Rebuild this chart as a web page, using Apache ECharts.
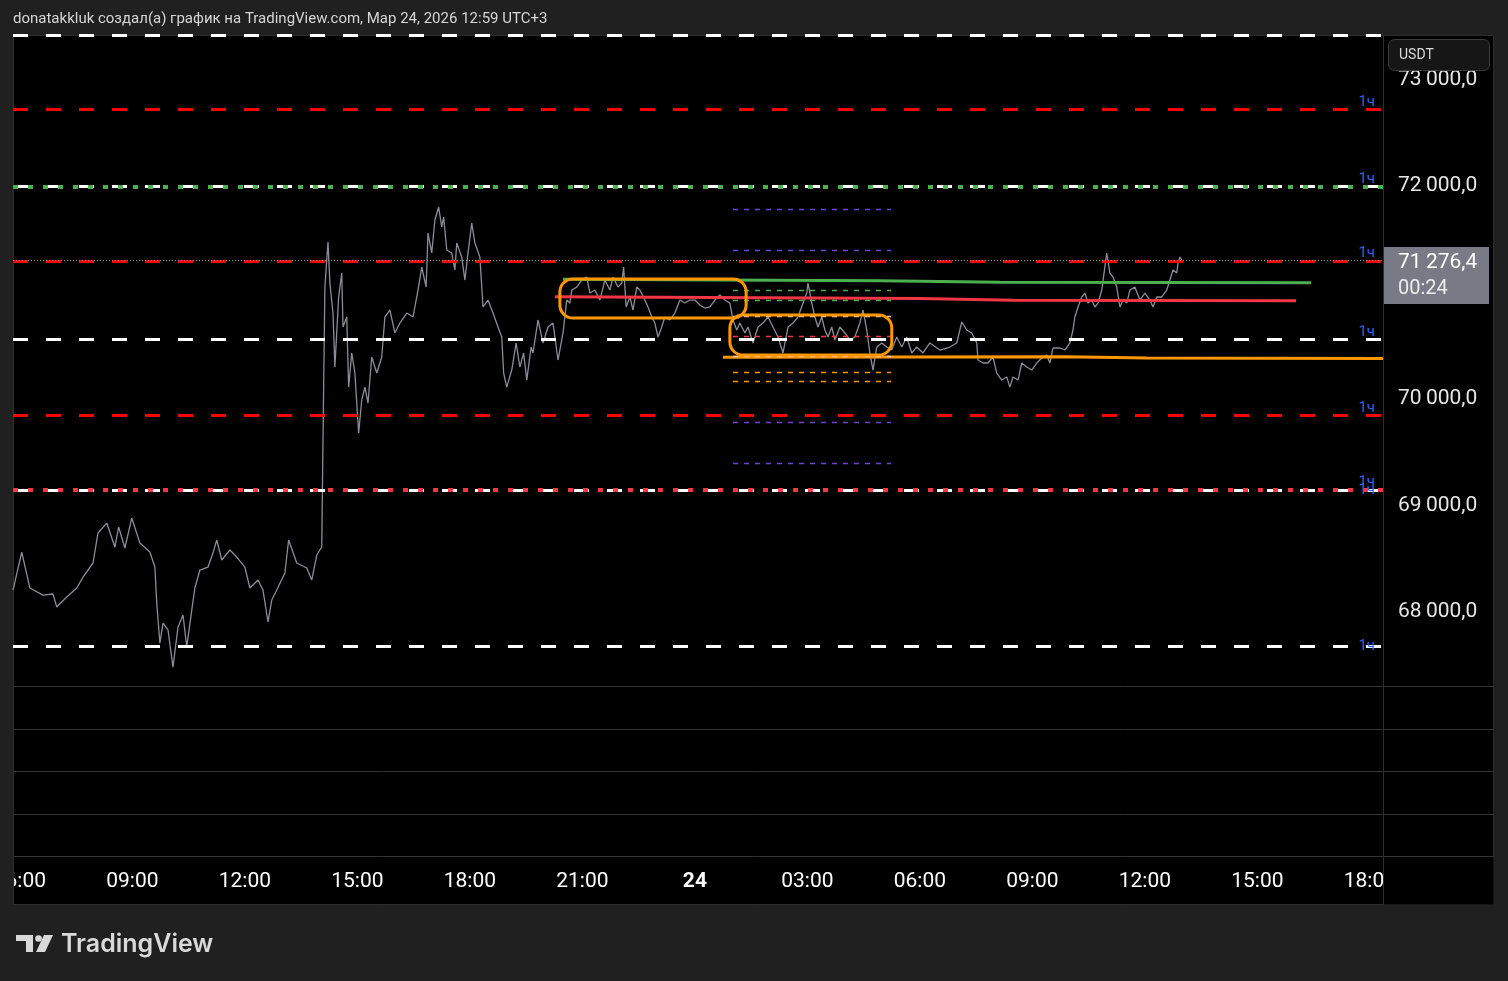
<!DOCTYPE html>
<html><head><meta charset="utf-8">
<script src="https://cdn.jsdelivr.net/npm/echarts@6/dist/echarts.min.js"></script>
<style>html,body{margin:0;padding:0;background:#202020;overflow:hidden}#c{width:1508px;height:981px}</style>
</head><body><div id="c"></div>
<script>
// ---- data (minutes since 23 Mar 00:00, price in USDT) ----
const times = [349,363,376,397,413,419,435,451,461,477,485,499,512,518,528,539,552,568,576,579,584,589,597,605,613,621,627,635,640,648,661,669,675,683,696,707,720,728,741,749,757,763,771,784,790,803,819,827,835,843,845,848,853,856,861,864,870,875,877,883,886,891,896,902,907,912,917,923,931,939,944,952,960,968,979,989,997,1003,1010,1013,1019,1024,1030,1035,1038,1043,1051,1056,1059,1067,1072,1077,1083,1088,1096,1101,1109,1117,1125,1131,1134,1139,1147,1154,1160,1166,1171,1178,1181,1189,1197,1205,1213,1221,1229,1235,1240,1243,1251,1259,1267,1272,1280,1288,1296,1304,1309,1317,1323,1326,1330,1336,1341,1347,1352,1360,1365,1371,1376,1381,1387,1392,1400,1408,1416,1424,1432,1440,1448,1456,1464,1472,1480,1488,1496,1501,1507,1512,1520,1525,1533,1541,1549,1557,1565,1573,1581,1589,1597,1605,1613,1619,1621,1627,1632,1637,1643,1648,1653,1659,1664,1672,1680,1688,1696,1704,1709,1715,1720,1725,1731,1739,1747,1755,1763,1771,1779,1787,1795,1805,1816,1832,1848,1859,1867,1875,1883,1891,1893,1901,1909,1917,1923,1931,1939,1944,1949,1957,1963,1971,1979,1987,1995,2003,2008,2013,2024,2032,2040,2045,2048,2053,2059,2064,2069,2075,2080,2085,2091,2096,2099,2104,2109,2115,2120,2125,2131,2136,2144,2152,2160,2168,2173,2179,2187,2195,2200,2205,2211,2213,2216,2219];
const prices = [68178,68535,68197,68131,68141,68019,68113,68197,68300,68432,68714,68807,68582,68770,68573,68854,68620,68535,68394,68056,67680,67868,67803,67455,67831,67944,67643,67990,68197,68366,68394,68526,68648,68460,68554,68488,68394,68197,68272,68178,67878,68084,68178,68338,68648,68432,68385,68272,68507,68582,69587,71023,71446,71061,70779,70272,70930,71155,70648,70742,70084,70404,70216,69652,69962,70084,69934,70366,70216,70366,70742,70807,70592,70685,70779,70742,70995,71211,71023,71530,71343,71653,71775,71587,71681,71371,71343,71183,71437,71305,71089,71343,71624,71437,71305,70836,70901,70779,70648,70554,70216,70084,70244,70498,70272,70404,70150,70460,70404,70714,70498,70648,70685,70338,70592,70901,70873,70995,71023,71089,71117,70967,70995,70901,71089,70995,71117,71023,71061,71211,70836,70930,70807,71023,70995,70901,70836,70742,70685,70554,70648,70742,70714,70779,70901,70873,70901,70901,70854,70826,70836,70901,70948,70901,70873,70714,70620,70685,70592,70648,70498,70648,70685,70742,70648,70554,70404,70648,70685,70742,70873,70967,71061,70873,70742,70648,70742,70620,70554,70648,70526,70648,70592,70526,70554,70685,70807,70620,70404,70244,70460,70498,70460,70432,70554,70460,70554,70404,70460,70404,70498,70432,70460,70498,70695,70620,70592,70498,70338,70310,70310,70366,70216,70150,70178,70084,70178,70150,70310,70272,70244,70310,70357,70385,70310,70451,70451,70432,70498,70620,70742,70836,70930,70967,70873,70901,70836,70873,70995,71211,71343,71155,71117,71023,70836,70901,70873,70995,71023,70901,70967,70901,70836,70930,70930,70995,71089,71183,71155,71249,71305,71276];
const lastPrice = 71276.4;
const countdown = '00:24';

const tickTimes = [360,540,720,900,1080,1260,1440,1620,1800,1980,2160,2340,2520];
const tickLabels = ['06:00','09:00','12:00','15:00','18:00','21:00','24','03:00','06:00','09:00','12:00','15:00','18:00'];
const priceTicks = [68000,69000,70000,72000,73000];

const whiteDashLevels = [73389,71969,70532,69117,67652];
const redDashLevels = [72692,71268,69818];
const greenDotLevels = [71969];
const redDotLevels = [69117];

// drawn trend lines: [time, price]
const greenLine = [[1229,71096],[1736,71083],[1928,71068],[2426,71064]];
const redLine = [[1216,70932],[1800,70916],[1949,70899],[2402,70895]];
const orangeLine = [[1485,70363],[2035,70369],[2163,70357],[2541,70352]];

// rounded boxes: [tStart, tEnd, priceTop, priceBottom]
const boxes = [[1224,1522,71099,70732],[1496,1755,70761,70385]];

// short dashed levels between two times
const shortStart = 1501, shortEnd = 1754;
const purpleShort = [71756,71371,69756,69371];
const greenShort = [70995,70901];
const pinkShort = [70751,70376];
const redShort = [70563];
const orangeShort = [70225,70141];

const xMin = 349, xMax = 2541, yMin = 67277, yMax = 73390;

// ---- chart ----
const FONT = 'Roboto';
function fmtPrice(v){
  const n = Math.round(v*10)/10;
  const ip = Math.floor(n);
  const dp = Math.round((n-ip)*10);
  const s = String(ip);
  return s.slice(0,s.length-3) + '\u2009' + s.slice(-3) + ',' + dp;
}
function hourLabel(pos, dist){
  return {show:true, formatter:'1ч', position:pos, distance:dist, color:'#2962ff', fontSize:15, fontFamily:FONT};
}
const lowestWhite = Math.min.apply(null, whiteDashLevels);
const levelItems = [];
whiteDashLevels.forEach((v,i)=>{
  levelItems.push({yAxis:v, lineStyle:{color:'#ffffff', width:3, type:[15,18]},
    label: i===0 ? {show:false} : (v===lowestWhite ? hourLabel('insideEnd',[8,0]) : hourLabel('insideEndTop',[8,0]))});
});
redDashLevels.forEach(v=>{
  levelItems.push({yAxis:v, lineStyle:{color:'#ff0000', width:3, type:[15,18]}, label:hourLabel('insideEndTop',[8,0])});
});
greenDotLevels.forEach(v=>{
  levelItems.push({yAxis:v, lineStyle:{color:'#4caf50', width:4, type:[5,10]}, label:{show:false}});
});
redDotLevels.forEach(v=>{
  levelItems.push({yAxis:v, lineStyle:{color:'#f23645', width:4, type:[5,10]}, label:hourLabel('insideEnd',[8,0])});
});

const shortItems = [];
function addShort(arr, color){
  arr.forEach(v=>shortItems.push([{coord:[shortStart,v], lineStyle:{color:color, width:1.3, type:[5,6]}},{coord:[shortEnd,v]}]));
}
addShort(purpleShort,'#6f42d6');
addShort(greenShort,'#4caf50');
addShort(pinkShort,'#f8c4d4');
addShort(redShort,'#f23645');
addShort(orangeShort,'#ff9800');

const chart = echarts.init(document.getElementById('c'), null, {renderer:'canvas'});
const option = {
  animation:false,
  backgroundColor:'#202020',
  grid:{left:13, right:125, top:35, bottom:295, containLabel:false, outerBoundsMode:'none'},
  xAxis:{type:'value', min:xMin, max:xMax,
    axisLine:{show:false}, axisTick:{show:false}, splitLine:{show:false},
    axisLabel:{customValues:tickTimes, margin:196, verticalAlign:'middle', color:'#ffffff', fontSize:21, fontFamily:FONT,
      formatter:(v)=>{const s = tickLabels[tickTimes.indexOf(v)]; return s==='24' ? '{b|24}' : s;},
      rich:{b:{fontWeight:'bold', fontSize:21, color:'#ffffff', fontFamily:FONT}}}},
  yAxis:{type:'value', position:'right', min:yMin, max:yMax,
    axisLine:{show:false}, axisTick:{show:false}, splitLine:{show:false},
    axisLabel:{customValues:priceTicks, margin:15, color:'#e6e6e6', fontSize:21, fontFamily:FONT,
      formatter:(v)=>'{p|'+fmtPrice(v)+'}',
      rich:{p:{fontSize:21, color:'#e6e6e6', fontFamily:FONT, padding:[6,0,0,0]}}}},
  graphic:[
    {type:'rect', z:-100, shape:{x:13.5, y:35.5, width:1480, height:869}, style:{fill:'#000000', stroke:'#2c2c2c', lineWidth:1}},
    {type:'line', z:-50, shape:{x1:13, y1:686.5, x2:1494, y2:686.5}, style:{stroke:'#333333', lineWidth:1}},
    {type:'line', z:-50, shape:{x1:13, y1:729.5, x2:1494, y2:729.5}, style:{stroke:'#333333', lineWidth:1}},
    {type:'line', z:-50, shape:{x1:13, y1:771.5, x2:1494, y2:771.5}, style:{stroke:'#333333', lineWidth:1}},
    {type:'line', z:-50, shape:{x1:13, y1:814.5, x2:1494, y2:814.5}, style:{stroke:'#333333', lineWidth:1}},
    {type:'line', z:-50, shape:{x1:13, y1:856.5, x2:1494, y2:856.5}, style:{stroke:'#333333', lineWidth:1}},
    {type:'rect', z:100, shape:{x:0, y:857, width:13, height:48}, style:{fill:'#202020'}},
    {type:'rect', z:100, shape:{x:1384, y:857, width:109.5, height:47.5}, style:{fill:'#000000'}},
    {type:'line', z:101, shape:{x1:1383.5, y1:35, x2:1383.5, y2:905}, style:{stroke:'#2e2e2e', lineWidth:1}},
    {type:'line', z:101, shape:{x1:13.5, y1:857, x2:13.5, y2:905}, style:{stroke:'#2c2c2c', lineWidth:1}},
    {type:'rect', z:100, shape:{x:1388.5, y:39.5, width:101, height:31, r:6}, style:{fill:'#161616', stroke:'#3c3c3c', lineWidth:1}},
    {type:'text', z:101, x:1399, y:55, style:{text:'USDT', fill:'#d9d9d9', font:'14px Roboto', verticalAlign:'middle'}},
    {type:'text', z:101, x:13, y:19, style:{text:'donatakkluk создал(а) график на TradingView.com, Мар 24, 2026 12:59 UTC+3', fill:'#d6d6d6', font:'15px Roboto', verticalAlign:'middle'}},
    {type:'rect', z:101, shape:{x:16, y:935, width:17, height:6}, style:{fill:'#d9d9d9'}},
    {type:'rect', z:101, shape:{x:26, y:935, width:7, height:17}, style:{fill:'#d9d9d9'}},
    {type:'circle', z:101, shape:{cx:38.5, cy:938.5, r:3.3}, style:{fill:'#d9d9d9'}},
    {type:'polygon', z:101, shape:{points:[[44,935],[53,935],[45,952],[36,952]]}, style:{fill:'#d9d9d9'}},
    {type:'text', z:101, x:61, y:944, style:{text:'TradingView', fill:'#d9d9d9', font:'600 25px Inter', verticalAlign:'middle'}}
  ],
  series:[
    {name:'levels', type:'line', data:[], z:1, silent:true,
      markLine:{silent:true, symbol:['none','none'], data:levelItems, emphasis:{disabled:true}}},
    {name:'zones', type:'line', data:[], z:2, silent:true,
      markLine:{silent:true, symbol:['none','none'], label:{show:false}, data:shortItems, emphasis:{disabled:true}}},
    {name:'price', type:'line', z:3, showSymbol:false, silent:true,
      data:times.map((t,i)=>[t, prices[i]]),
      lineStyle:{color:'#8a8d97', width:1.3},
      markLine:{silent:true, symbol:['none','none'], label:{show:false},
        data:[{yAxis:lastPrice, lineStyle:{color:'#9598a1', width:1, type:[1,2]}}]},
      markPoint:{silent:true, symbol:'rect', symbolSize:0,
        data:[{coord:[xMax, lastPrice],
          label:{show:true, position:'right', distance:1, offset:[0,15.5],
            formatter:()=>'{a|'+fmtPrice(lastPrice)+'}\n{b|'+countdown+'}',
            backgroundColor:'#787b86', padding:[3,7,2,14], width:84, align:'left',
            rich:{a:{fontSize:21, lineHeight:26, color:'#ffffff', fontFamily:FONT},
                  b:{fontSize:20, lineHeight:26, color:'#ececec', fontFamily:FONT}}}}]}},
    {name:'green', type:'line', z:4, showSymbol:false, silent:true, data:greenLine, lineStyle:{color:'#4caf50', width:3}},
    {name:'red', type:'line', z:4, showSymbol:false, silent:true, data:redLine, lineStyle:{color:'#f23645', width:3}},
    {name:'orange', type:'line', z:4, showSymbol:false, silent:true, data:orangeLine, lineStyle:{color:'#ff9800', width:3}},
    {name:'boxes', type:'custom', z:5, silent:true, data:boxes,
      renderItem:(params, api)=>{
        const p1 = api.coord([api.value(0), api.value(2)]);
        const p2 = api.coord([api.value(1), api.value(3)]);
        return {type:'rect', shape:{x:p1[0], y:p1[1], width:p2[0]-p1[0], height:p2[1]-p1[1], r:13},
          style:{fill:'none', stroke:'#ff9800', lineWidth:3}};
      }}
  ]
};
chart.setOption(option);
</script>
</body></html>
